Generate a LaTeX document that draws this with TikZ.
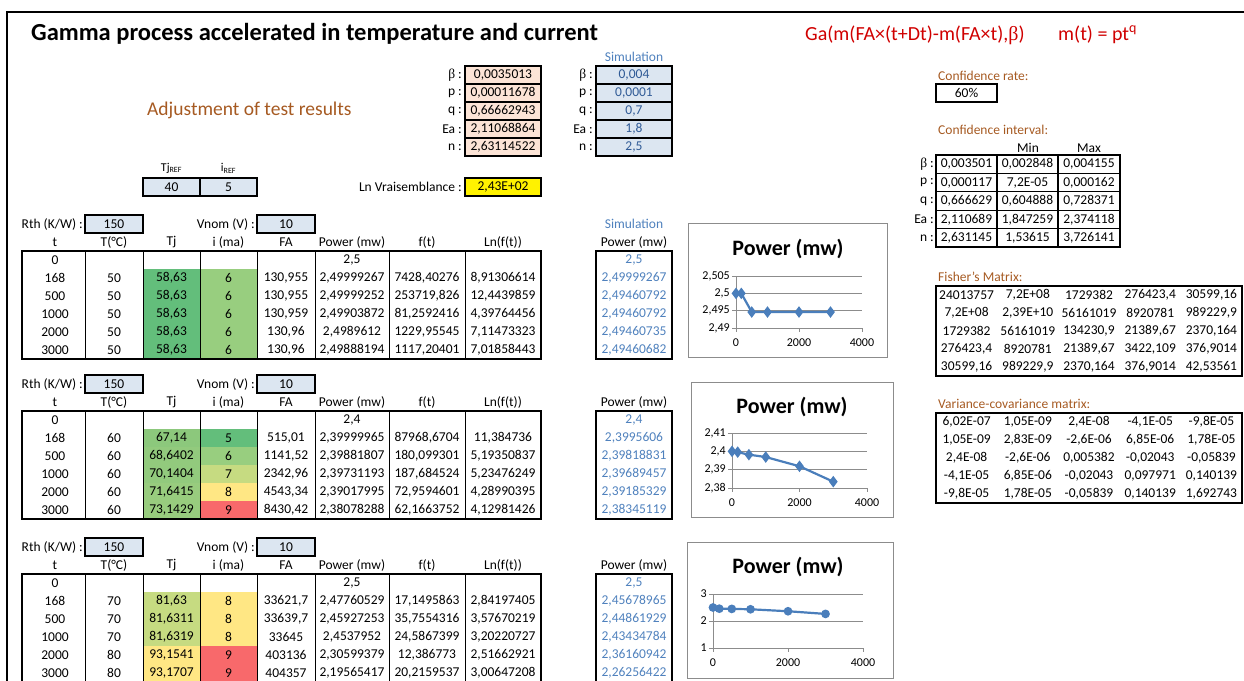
\documentclass[tikz,border=0pt]{standalone}
\usepackage{fontspec}
\setmainfont{Carlito}
\newfontfamily\greekserif{Liberation Serif}
\usetikzlibrary{plotmarks}

\definecolor{boxblue}{HTML}{DCE6F1}
\definecolor{boxpeach}{HTML}{FCE4D6}
\definecolor{simblue}{HTML}{4F81BD}
\definecolor{simdark}{HTML}{2F5A96}
\definecolor{brownlbl}{HTML}{A65A22}
\definecolor{redf}{HTML}{D00000}
\definecolor{serblue}{HTML}{4A7EBB}
\definecolor{gridgray}{HTML}{8C8C8C}
\definecolor{gA}{HTML}{63BE7B}
\definecolor{gB}{HTML}{98CE7F}
\definecolor{gC}{HTML}{8CC87C}
\definecolor{gD}{HTML}{92CA7D}
\definecolor{gE}{HTML}{98CC7E}
\definecolor{yg}{HTML}{C6DB81}
\definecolor{yl}{HTML}{FFE784}
\definecolor{rd}{HTML}{F8696B}

\newcommand\cellfont{\fontsize{13.5}{16}\selectfont}
\newcommand\bet{{\greekserif β}}

\tikzset{
  cell/.style={inner sep=0pt, font=\cellfont},
  simtxt/.style={text=simblue},
  inbox/.style={draw, line width=1.4pt, fill=boxblue, minimum width=58pt, minimum height=18pt, inner sep=0pt, font=\cellfont},
  parbox/.style={draw, line width=1.4pt, fill=boxpeach, minimum width=76pt, minimum height=18pt, inner sep=0pt, font=\cellfont},
  simpar/.style={parbox, fill=boxblue, text=simdark},
  brown/.style={inner sep=0pt, font=\cellfont, text=brownlbl, anchor=west},
  chartframe/.style={draw=gridgray, line width=0.8pt},
  gridline/.style={draw=gridgray, line width=0.8pt},
  axlbl/.style={inner sep=0pt, font=\fontsize{12}{14}\selectfont},
  ctitle/.style={inner sep=0pt, font=\fontsize{22}{25}\selectfont\bfseries},
  series/.style={serblue, line width=2.2pt, mark options={solid, fill=serblue, draw=serblue}}
}

\newcommand\testtable[5]{%
  \node[cell,anchor=east] (#2rthl) at (83,#1+9) {Rth (K/W) :};
  \node[inbox] (#2rth) at (114,#1+9) {150};
  \node[cell,anchor=east] (#2vnoml) at (255,#1+9) {Vnom (V) :};
  \node[inbox] (#2vnom) at (286,#1+9) {10};
  \foreach \hx/\hl [count=\kk] in {55/t,114/T(°C),171.5/Tj,228.5/i (ma),286/FA,352/Power (mw),427/f(t),503/Ln(f(t)),634/Power (mw)}
    \node[cell] (#2h\kk) at (\hx,#1+27) {\hl};
  \node[cell] (#2t0) at (55,#1+45) {0};
  \node[cell] (#2pw0) at (352,#1+45) {#3};
  \node[cell,simtxt] (#2sm0) at (634,#1+45) {#4};
  \foreach \vt/\vT/\vtj/\ctj/\vi/\ci/\vfa/\vpw/\vft/\vln/\vsm [count=\rr] in {#5}{
    \pgfmathsetmacro\ya{#1+36+18*\rr}
    \fill[fill=\ctj] (143,\ya) rectangle (200,\ya+18);
    \fill[fill=\ci] (200,\ya) rectangle (257,\ya+18);
    \node[cell] (#2t\rr) at (55,\ya+9) {\vt};
    \node[cell] (#2T\rr) at (114,\ya+9) {\vT};
    \node[cell] (#2tj\rr) at (171.5,\ya+9) {\vtj};
    \node[cell] (#2i\rr) at (228.5,\ya+9) {\vi};
    \node[cell] (#2fa\rr) at (286,\ya+9) {\vfa};
    \node[cell] (#2pw\rr) at (352,\ya+9) {\vpw};
    \node[cell] (#2ft\rr) at (427,\ya+9) {\vft};
    \node[cell] (#2ln\rr) at (503,\ya+9) {\vln};
    \node[cell,simtxt] (#2sm\rr) at (634,\ya+9) {\vsm};
  }
  \draw[line width=1.5pt] (22,#1+36) rectangle (541,#1+144);
  \foreach \xx in {85,143,200,257,315,389,465}
    \draw[line width=0.8pt] (\xx,#1+36) -- (\xx,#1+144);
  \draw[line width=1.5pt] (596,#1+36) rectangle (672,#1+144);
}

\begin{document}
\begin{tikzpicture}[x=1pt,y=-1pt]
\useasboundingbox (0,0) rectangle (1244,680);
\draw[line width=2pt] (7,690) -- (7,12) -- (1250,12);

\node[anchor=base west, inner sep=0pt, font=\fontsize{24.5}{28}\selectfont\bfseries] (title) at (31,40) {Gamma process accelerated in temperature and current};
\node[anchor=base west, inner sep=0pt, text=redf, font=\fontsize{20}{24}\selectfont] (law) at (805,40.5) {Ga(m(FA×(t+Dt)-m(FA×t),\bet)};
\node[anchor=base west, inner sep=0pt, text=redf, font=\fontsize{20}{24}\selectfont] (mean) at (1058,40.5) {m(t) = pt\textsuperscript{q}};

\node[anchor=base west, inner sep=0pt, text=brownlbl, font=\fontsize{19.5}{23}\selectfont] (adjust) at (147,115) {Adjustment of test results};
\node[cell,simtxt] (simpar) at (634,57) {Simulation};
\foreach \pn/\pv/\ps [count=\rr] in {\bet/{0,0035013}/{0,004}, p/{0,00011678}/{0,0001}, q/{0,66662943}/{0,7}, Ea/{2,11068864}/{1,8}, n/{2,63114522}/{2,5}}{
  \pgfmathsetmacro\yp{57+18*\rr}
  \node[cell,anchor=east] (pl\rr) at (462,\yp) {\pn{} :};
  \node[parbox] (pv\rr) at (503,\yp) {\pv};
  \node[cell,anchor=east] (sl\rr) at (593,\yp) {\pn{} :};
  \node[simpar] (sv\rr) at (634,\yp) {\ps};
}

\node[inner sep=0pt, font=\fontsize{12}{14}\selectfont] (tjref) at (171.5,168) {Tj\textsubscript{REF}};
\node[inner sep=0pt, font=\fontsize{12}{14}\selectfont] (iref) at (228.5,168) {i\textsubscript{REF}};
\node[inbox, minimum width=57pt] (tjrefv) at (171.5,187) {40};
\node[inbox, minimum width=57pt] (irefv) at (228.5,187) {5};
\node[cell,anchor=east] (lnvl) at (462,187) {Ln Vraisemblance :};
\node[parbox, fill=yellow] (lnv) at (503,187) {2,43E+02};

\node[cell,simtxt] (simpow) at (634,224) {Simulation};
\testtable{215}{a}{2,5}{2,5}{
  168/50/58{,}63/gA/6/gB/130{,}955/2{,}49999267/7428{,}40276/8{,}91306614/2{,}49999267,
  500/50/58{,}63/gA/6/gB/130{,}955/2{,}49999252/253719{,}826/12{,}4439859/2{,}49460792,
  1000/50/58{,}63/gA/6/gB/130{,}959/2{,}49903872/81{,}2592416/4{,}39764456/2{,}49460792,
  2000/50/58{,}63/gA/6/gB/130{,}96/2{,}4989612/1229{,}95545/7{,}11473323/2{,}49460735,
  3000/50/58{,}63/gA/6/gB/130{,}96/2{,}49888194/1117{,}20401/7{,}01858443/2{,}49460682}
\testtable{375}{b}{2,4}{2,4}{
  168/60/67{,}14/gC/5/gA/515{,}01/2{,}39999965/87968{,}6704/11{,}384736/2{,}3995606,
  500/60/68{,}6402/gD/6/gB/1141{,}52/2{,}39881807/180{,}099301/5{,}19350837/2{,}39818831,
  1000/60/70{,}1404/gD/7/yg/2342{,}96/2{,}39731193/187{,}684524/5{,}23476249/2{,}39689457,
  2000/60/71{,}6415/gE/8/yl/4543{,}34/2{,}39017995/72{,}9594601/4{,}28990395/2{,}39185329,
  3000/60/73{,}1429/gE/9/rd/8430{,}42/2{,}38078288/62{,}1663752/4{,}12981426/2{,}38345119}
\testtable{538}{c}{2,5}{2,5}{
  168/70/81{,}63/yg/8/yl/33621{,}7/2{,}47760529/17{,}1495863/2{,}84197405/2{,}45678965,
  500/70/81{,}6311/yg/8/yl/33639{,}7/2{,}45927253/35{,}7554316/3{,}57670219/2{,}44861929,
  1000/70/81{,}6319/yg/8/yl/33645/2{,}4537952/24{,}5867399/3{,}20220727/2{,}43434784,
  2000/80/93{,}1541/yl/9/rd/403136/2{,}30599379/12{,}386773/2{,}51662921/2{,}36160942,
  3000/80/93{,}1707/yl/9/rd/404357/2{,}19565417/20{,}2159537/3{,}00647208/2{,}26256422}

\draw[chartframe] (688,223) rectangle (887,357);
\node[ctitle] (chart1) at (788,249) {Power (mw)};
\begin{scope}[shift={(736,328)}, x=0.0315pt, y=3466pt]
  \foreach \g/\gl in {0/{2,49},0.005/{2,495},0.01/{2,5},0.015/{2,505}}{
    \draw[gridline] (0,\g) -- (4000,\g);
    \draw[gridline] (0,\g) -- ++(-4pt,0pt);
    \node[axlbl, anchor=east] at ([xshift=-6pt]0,\g) {\gl};
  }
  \draw[gridline] (0,0) -- (0,0.015);
  \foreach \xv in {0,2000,4000}{
    \draw[gridline] (\xv,0) -- ++(0pt,-4pt);
    \node[axlbl, anchor=north] at ([yshift=-11pt]\xv,0) {\xv};
  }
  \draw[series] plot[mark=diamond*, mark size=4pt] coordinates {(0,0.01) (168,0.00999267) (500,0.00460792) (1000,0.00460792) (2000,0.00460735) (3000,0.00460682)};
\end{scope}

\draw[chartframe] (691,382) rectangle (893,517);
\node[ctitle] (chart2) at (792,407) {Power (mw)};
\begin{scope}[shift={(732,488)}, x=0.03375pt, y=1833pt]
  \foreach \g/\gl in {0/{2,38},0.01/{2,39},0.02/{2,4},0.03/{2,41}}{
    \draw[gridline] (0,\g) -- (4000,\g);
    \draw[gridline] (0,\g) -- ++(-4pt,0pt);
    \node[axlbl, anchor=east] at ([xshift=-6pt]0,\g) {\gl};
  }
  \draw[gridline] (0,0) -- (0,0.03);
  \foreach \xv in {0,2000,4000}{
    \draw[gridline] (\xv,0) -- ++(0pt,-4pt);
    \node[axlbl, anchor=north] at ([yshift=-11pt]\xv,0) {\xv};
  }
  \draw[series] plot[mark=diamond*, mark size=4pt] coordinates {(0,0.02) (168,0.0195606) (500,0.01818831) (1000,0.01689457) (2000,0.01185329) (3000,0.00345119)};
\end{scope}

\draw[chartframe] (687,542) rectangle (893,678);
\node[ctitle] (chart3) at (788,567) {Power (mw)};
\begin{scope}[shift={(713,648)}, x=0.0375pt, y=27pt]
  \foreach \g/\gl in {0/1,1/2,2/3}{
    \draw[gridline] (0,\g) -- (4000,\g);
    \draw[gridline] (0,\g) -- ++(-4pt,0pt);
    \node[axlbl, anchor=east] at ([xshift=-6pt]0,\g) {\gl};
  }
  \draw[gridline] (0,0) -- (0,2);
  \foreach \xv in {0,2000,4000}{
    \draw[gridline] (\xv,0) -- ++(0pt,-4pt);
    \node[axlbl, anchor=north] at ([yshift=-11pt]\xv,0) {\xv};
  }
  \draw[series] plot[mark=*, mark size=3.2pt] coordinates {(0,1.5) (168,1.45678965) (500,1.44861929) (1000,1.43434784) (2000,1.36160942) (3000,1.26256422)};
\end{scope}

\node[brown] (confrate) at (938,76) {Confidence rate:};
\node[inbox, fill=white, minimum width=61pt] (confv) at (966.5,93) {60\%};
\node[brown] (confint) at (938,130) {Confidence interval:};
\node[cell] (cimin) at (1028,148) {Min};
\node[cell] (cimax) at (1089,148) {Max};
\foreach \pn/\va/\vb/\vc [count=\rr] in {\bet/{0,003501}/{0,002848}/{0,004155}, p/{0,000117}/{7,2E-05}/{0,000162}, q/{0,666629}/{0,604888}/{0,728371}, Ea/{2,110689}/{1,847259}/{2,374118}, n/{2,631145}/{1,53615}/{3,726141}}{
  \pgfmathsetmacro\yc{155+18.4*\rr-9.2}
  \node[cell,anchor=east] (cil\rr) at (934,\yc) {\pn{} :};
  \node[cell] (cia\rr) at (966.5,\yc) {\va};
  \node[cell] (cib\rr) at (1027.5,\yc) {\vb};
  \node[cell] (cic\rr) at (1089,\yc) {\vc};
}
\draw[line width=1.3pt] (936,155) rectangle (1120,247);
\foreach \xx in {997,1058} \draw[line width=1.1pt] (\xx,155) -- (\xx,247);
\foreach \rr in {1,...,4} \draw[line width=1.1pt] (936,155+18.4*\rr) -- (1120,155+18.4*\rr);

\node[brown] (fisherl) at (938,277) {Fisher's Matrix:};
\draw[line width=1.5pt] (936,286) rectangle (1242,376);
\foreach \ma/\mb/\mc/\md/\me [count=\rr] in {
  24013757/7{,}2E+08/1729382/276423{,}4/30599{,}16,
  7{,}2E+08/2{,}39E+10/56161019/8920781/989229{,}9,
  1729382/56161019/134230{,}9/21389{,}67/2370{,}164,
  276423{,}4/8920781/21389{,}67/3422{,}109/376{,}9014,
  30599{,}16/989229{,}9/2370{,}164/376{,}9014/42{,}53561}{
  \pgfmathsetmacro\yf{277+18*\rr}
  \foreach \mv [count=\cc] in {\ma,\mb,\mc,\md,\me}
    \node[cell] (fm\rr-\cc) at (905.4+61.2*\cc,\yf) {\mv};
}

\node[brown] (varl) at (938,404) {Variance-covariance matrix:};
\draw[line width=1.5pt] (936,413) rectangle (1242,503);
\foreach \ma/\mb/\mc/\md/\me [count=\rr] in {
  6{,}02E-07/1{,}05E-09/2{,}4E-08/-4{,}1E-05/-9{,}8E-05,
  1{,}05E-09/2{,}83E-09/-2{,}6E-06/6{,}85E-06/1{,}78E-05,
  2{,}4E-08/-2{,}6E-06/0{,}005382/-0{,}02043/-0{,}05839,
  -4{,}1E-05/6{,}85E-06/-0{,}02043/0{,}097971/0{,}140139,
  -9{,}8E-05/1{,}78E-05/-0{,}05839/0{,}140139/1{,}692743}{
  \pgfmathsetmacro\yv{404+18*\rr}
  \foreach \mv [count=\cc] in {\ma,\mb,\mc,\md,\me}
    \node[cell] (vm\rr-\cc) at (905.4+61.2*\cc,\yv) {\mv};
}
\end{tikzpicture}
\end{document}
